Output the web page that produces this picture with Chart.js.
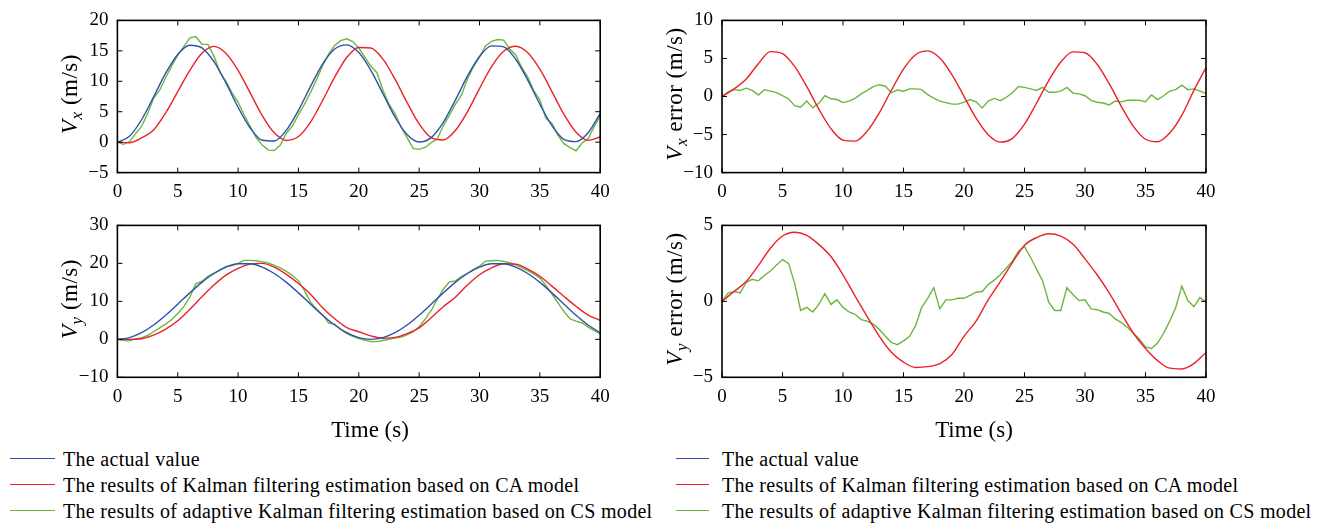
<!DOCTYPE html>
<html>
<head>
<meta charset="utf-8">
<script src="https://cdn.jsdelivr.net/npm/chart.js@4.4.1/dist/chart.umd.min.js"></script>
<style>
  body { margin: 0; background: #fff; width: 1332px; height: 525px; overflow: hidden; position: relative; font-family: "Liberation Serif", "Times New Roman", serif; color: #000; }
  canvas { position: absolute; }
  .ytitle { position: absolute; font-size: 23px; letter-spacing: 0.5px; white-space: nowrap; transform: translate(-50%, -50%) rotate(-90deg); }
  .ytitle sub { font-size: 17px; }
  .xtitle { position: absolute; font-size: 23px; white-space: nowrap; transform: translate(-50%, -50%); }
  .leg { position: absolute; font-size: 20px; letter-spacing: 0.3px; white-space: nowrap; transform: translateY(-50%); }
  .sw { position: absolute; height: 0; border-top: 1.4px solid; }
</style>
</head>
<body>
<canvas id="cVx" width="570" height="205" style="left:50px;top:0px"></canvas>
<canvas id="cVxErr" width="570" height="205" style="left:655px;top:0px"></canvas>
<canvas id="cVy" width="570" height="215" style="left:50px;top:205px"></canvas>
<canvas id="cVyErr" width="570" height="215" style="left:655px;top:205px"></canvas>

<div class="ytitle" style="left:72px;top:94px"><i>V</i><sub><i>x</i></sub> (m/s)</div>
<div class="ytitle" style="left:677px;top:94px"><i>V</i><sub><i>x</i></sub> error (m/s)</div>
<div class="ytitle" style="left:72px;top:299px"><i>V</i><sub><i>y</i></sub> (m/s)</div>
<div class="ytitle" style="left:677px;top:299px"><i>V</i><sub><i>y</i></sub> error (m/s)</div>
<div class="xtitle" style="left:370px;top:430px">Time (s)</div>
<div class="xtitle" style="left:974px;top:430px">Time (s)</div>

<div id="legends"></div>

<script>
// time axes (s)
const timeCoarse = [0,1,2,3,4,5,6,7,8,9,10,11,12,13,14,15,16,17,18,19,20,21,22,23,24,25,26,27,28,29,30,31,32,33,34,35,36,37,38,39,40];
const timeFine = [0,0.5,1,1.5,2,2.5,3,3.5,4,4.5,5,5.5,6,6.5,7,7.5,8,8.5,9,9.5,10,10.5,11,11.5,12,12.5,13,13.5,14,14.5,15,15.5,16,16.5,17,17.5,18,18.5,19,19.5,20,20.5,21,21.5,22,22.5,23,23.5,24,24.5,25,25.5,26,26.5,27,27.5,28,28.5,29,29.5,30,30.5,31,31.5,32,32.5,33,33.5,34,34.5,35,35.5,36,36.5,37,37.5,38,38.5,39,39.5,40];

// Vx (m/s)
const vxActual = [0,0.98,3.68,7.43,11.33,14.41,15.92,15.49,13.23,9.69,5.73,2.33,0.32,0.19,1.97,5.23,9.16,12.82,15.29,15.98,14.71,11.80,7.96,4.13,1.25,0.02,0.74,3.24,6.91,10.84,14.08,15.82,15.66,13.62,10.20,6.24,2.72,0.46,0.09,1.54,4.74];
const vxKalman = [0,-0.1,0.7,2.0,4.8,8.3,11.8,14.6,15.74,14.57,11.8,8.1,4.37,1.53,0.28,0.92,3.29,6.84,10.67,13.9,15.56,15.46,13.64,10.34,6.5,3.01,0.74,0.36,1.92,4.99,8.8,12.4,14.92,15.75,14.68,11.98,8.31,4.55,1.63,0.30,0.85];
const vxAdaptive = [0,-0.35,0.08,1.35,2.58,4.68,7.23,8.53,10.63,12.53,14.31,15.69,17.12,17.35,16.09,16.06,14.13,11.47,9.99,8.10,6.53,4.50,2.58,0.76,-0.48,-1.3,-1.36,-0.49,1.47,2.62,4.53,6.26,8.16,10.27,12.57,14.46,15.89,16.68,16.98,16.53,15.46,13.96,12.5,11.41,8.56,6.24,4.68,2.48,0.75,-1.03,-1.18,-0.87,-0.06,0.52,2.69,4.38,6.21,7.72,10.39,12.4,13.98,15.8,16.57,16.85,16.76,15.31,14.32,12.27,10.7,8.43,6.94,3.91,3.12,1.13,-0.24,-0.89,-1.41,-0.14,0.54,2.56,4.34];

// Vx error (m/s)
const vxErrKalman = [0,1.0,2.3,4.3,5.9,5.64,3.96,1.32,-1.65,-4.22,-5.74,-5.86,-4.55,-2.14,0.82,3.60,5.49,5.99,5.05,2.89,0.02,-2.85,-5.02,-5.99,-5.50,-3.64,-0.85,2.10,4.53,5.87,5.75,4.24,1.68,-1.29,-3.93,-5.62,-5.94,-4.80,-2.48,0.8,3.8];
const vxErrAdaptive = [0,0.6,0.9,0.8,1.1,0.8,0.2,0.9,0.7,0.5,0.1,-0.3,-1.2,-1.4,-0.6,-1.5,-0.9,0.1,-0.3,-0.4,-0.8,-0.6,-0.25,0.35,0.8,1.3,1.55,1.35,0.5,0.85,0.7,1.0,1.0,0.9,0.25,-0.2,-0.6,-0.8,-1.0,-1.0,-0.75,-0.4,-0.7,-1.5,-0.6,-0.25,-0.55,-0.1,0.5,1.3,1.2,1.0,0.8,1.2,0.55,0.55,0.7,1.2,0.45,0.35,0.1,-0.5,-0.75,-0.85,-1.1,-0.6,-0.7,-0.5,-0.5,-0.5,-0.7,0.2,-0.4,0.1,0.7,0.9,1.5,0.9,1.0,0.7,0.4];

// Vy (m/s)
const vyActual = [0,0.44,1.74,3.77,6.35,9.25,12.23,15.0,17.33,19.01,19.89,19.89,19.01,17.33,15.0,12.23,9.25,6.35,3.77,1.74,0.44,0,0.44,1.74,3.77,6.35,9.25,12.23,15.0,17.33,19.01,19.89,19.89,19.01,17.33,15.0,12.23,9.25,6.35,3.77,1.74];
const vyKalman = [0,0,0.15,1.1,2.7,4.9,7.9,11.2,14.3,16.9,18.7,19.8,20.0,19.0,17.1,14.7,11.9,8.3,5.4,3.1,2.0,0.9,0.3,0.5,1.5,3.0,5.7,8.6,11.1,14.3,17.0,18.8,19.9,19.8,18.5,16.6,14.0,11.3,8.7,6.4,5.0];
const vyAdaptive = [0,-0.3,-0.4,0.1,0.4,1.0,2.0,3.0,4.0,5.2,6.8,8.6,11.1,14.6,15.3,16.6,17.4,18.3,19.2,19.4,20.0,20.8,20.8,20.7,20.4,20.1,19.5,18.8,17.9,16.8,15.4,12.8,9.8,8.0,6.5,4.3,4.0,2.6,1.5,0.8,0.2,-0.2,-0.6,-0.6,-0.3,0.0,0.3,0.6,1.2,2.0,3.3,5.3,7.6,10.5,13.2,15.1,15.4,16.5,17.4,18.4,19.3,20.6,20.7,20.8,20.5,20.2,19.6,18.9,18.1,17.2,16.2,14.2,11.9,9.6,7.3,5.4,4.8,4.3,3.2,2.3,1.5];

// Vy error (m/s)
const vyErrKalman = [0,0.65,1.3,2.35,3.5,4.3,4.55,4.35,3.75,2.95,1.75,0.35,-1.0,-2.3,-3.35,-4.0,-4.35,-4.3,-4.1,-3.5,-2.3,-1.3,0.1,1.3,2.55,3.7,4.2,4.45,4.3,3.77,2.8,1.75,0.55,-0.8,-2.1,-3.1,-3.9,-4.4,-4.45,-4.1,-3.36];
const vyErrAdaptive = [0,0.55,0.65,0.55,1.25,1.45,1.35,1.7,2.0,2.4,2.75,2.5,1.2,-0.6,-0.4,-0.7,-0.2,0.5,-0.2,0.1,-0.4,-0.7,-0.85,-1.2,-1.3,-1.5,-1.85,-2.3,-2.7,-2.85,-2.6,-2.3,-1.6,-0.4,0.2,0.9,-0.5,0.1,0.1,0.2,0.2,0.4,0.6,0.65,1.1,1.4,1.75,2.2,2.65,3.3,3.6,2.9,2.1,1.35,-0.06,-0.6,-0.6,0.9,0.45,0.05,0.1,-0.5,-0.55,-0.7,-0.8,-1.15,-1.4,-1.7,-2.1,-2.5,-3.0,-3.1,-2.75,-2.1,-1.3,-0.4,1.0,0.05,-0.35,0.25,-0.05];

const legendLabels = [
  "The actual value",
  "The results of Kalman filtering estimation based on CA model",
  "The results of adaptive Kalman filtering estimation based on CS model"
];

const BLUE = "rgb(46,82,170)";
const RED = "rgb(236,32,38)";
const GREEN = "rgb(108,182,62)";
const TICK_FONT = { family: "'Liberation Serif', 'Times New Roman', serif", size: 19 };

function pts(xs, ys) {
  return ys.map((y, i) => ({ x: xs[i], y: y }));
}

// matlab style box with ticks pointing inward
const boxTicks = {
  id: "boxTicks",
  afterDatasetsDraw(chart) {
    const { ctx, chartArea: a, scales } = chart;
    const x = scales.x, y = scales.y;
    const len = 5;
    ctx.save();
    ctx.strokeStyle = "#000";
    ctx.lineWidth = 1;
    ctx.beginPath();
    x.ticks.forEach(t => {
      const px = x.getPixelForValue(t.value);
      ctx.moveTo(px, a.bottom); ctx.lineTo(px, a.bottom - len);
      ctx.moveTo(px, a.top); ctx.lineTo(px, a.top + len);
    });
    y.ticks.forEach(t => {
      const py = y.getPixelForValue(t.value);
      ctx.moveTo(a.left, py); ctx.lineTo(a.left + len, py);
      ctx.moveTo(a.right, py); ctx.lineTo(a.right - len, py);
    });
    ctx.stroke();
    ctx.lineWidth = 1.6;
    ctx.strokeRect(a.left, a.top, a.right - a.left, a.bottom - a.top);
    ctx.restore();
  }
};

function lineSet(xs, ys, color, smooth) {
  return {
    data: pts(xs, ys),
    borderColor: color,
    borderWidth: 1.4,
    pointRadius: 0,
    fill: false,
    cubicInterpolationMode: smooth ? "monotone" : "default",
    tension: smooth ? 0.4 : 0
  };
}

function makeChart(id, datasets, yMin, yMax, yStep, g) {
  return new Chart(document.getElementById(id), {
    type: "line",
    data: { datasets: datasets },
    options: {
      animation: false,
      responsive: false,
      devicePixelRatio: 1,
      layout: { padding: { top: g.top, right: g.right, left: 0, bottom: 0 } },
      plugins: { legend: { display: false }, tooltip: { enabled: false } },
      scales: {
        x: {
          type: "linear", min: 0, max: 40,
          afterFit: s => { s.height = g.xH; },
          grid: { display: false, drawTicks: false },
          border: { display: false },
          ticks: { stepSize: 5, autoSkip: false, maxRotation: 0, padding: 8, color: "#000", font: TICK_FONT }
        },
        y: {
          min: yMin, max: yMax,
          afterFit: s => { s.width = g.yW; },
          grid: { display: false, drawTicks: false },
          border: { display: false },
          ticks: {
            stepSize: yStep, autoSkip: false, padding: 9, color: "#000", font: TICK_FONT,
            callback: v => v < 0 ? "\u2212" + Math.abs(v) : String(v)
          }
        }
      }
    },
    plugins: [boxTicks]
  });
}

makeChart("cVx", [
  lineSet(timeCoarse, vxActual, BLUE, true),
  lineSet(timeCoarse, vxKalman, RED, true),
  lineSet(timeFine, vxAdaptive, GREEN, false)
], -5, 20, 5, { top: 15.5, right: 19.8, yW: 67.4, xH: 32.4 });

makeChart("cVxErr", [
  lineSet(timeCoarse, vxErrKalman, RED, true),
  lineSet(timeFine, vxErrAdaptive, GREEN, false)
], -10, 10, 5, { top: 15.5, right: 19, yW: 67, xH: 32.4 });

makeChart("cVy", [
  lineSet(timeCoarse, vyActual, BLUE, true),
  lineSet(timeCoarse, vyKalman, RED, true),
  lineSet(timeFine, vyAdaptive, GREEN, false)
], -10, 30, 10, { top: 15.7, right: 19.8, yW: 67.4, xH: 42.7 });

makeChart("cVyErr", [
  lineSet(timeCoarse, vyErrKalman, RED, true),
  lineSet(timeFine, vyErrAdaptive, GREEN, false)
], -5, 5, 5, { top: 15.7, right: 19, yW: 67, xH: 42.7 });

// legends below each column
const legendColors = [BLUE, RED, GREEN];
const legendRows = [459, 485, 511];
const legendCols = [{ x1: 10, x2: 55, tx: 63 }, { x1: 676, x2: 709, tx: 722 }];
const host = document.getElementById("legends");
legendCols.forEach(col => {
  legendLabels.forEach((txt, i) => {
    const sw = document.createElement("div");
    sw.className = "sw";
    sw.style.left = col.x1 + "px";
    sw.style.width = (col.x2 - col.x1) + "px";
    sw.style.top = (legendRows[i] - 0.7) + "px";
    sw.style.borderTopColor = legendColors[i];
    host.appendChild(sw);
    const lab = document.createElement("div");
    lab.className = "leg";
    lab.style.left = col.tx + "px";
    lab.style.top = legendRows[i] + "px";
    lab.textContent = txt;
    host.appendChild(lab);
  });
});
</script>
</body>
</html>
